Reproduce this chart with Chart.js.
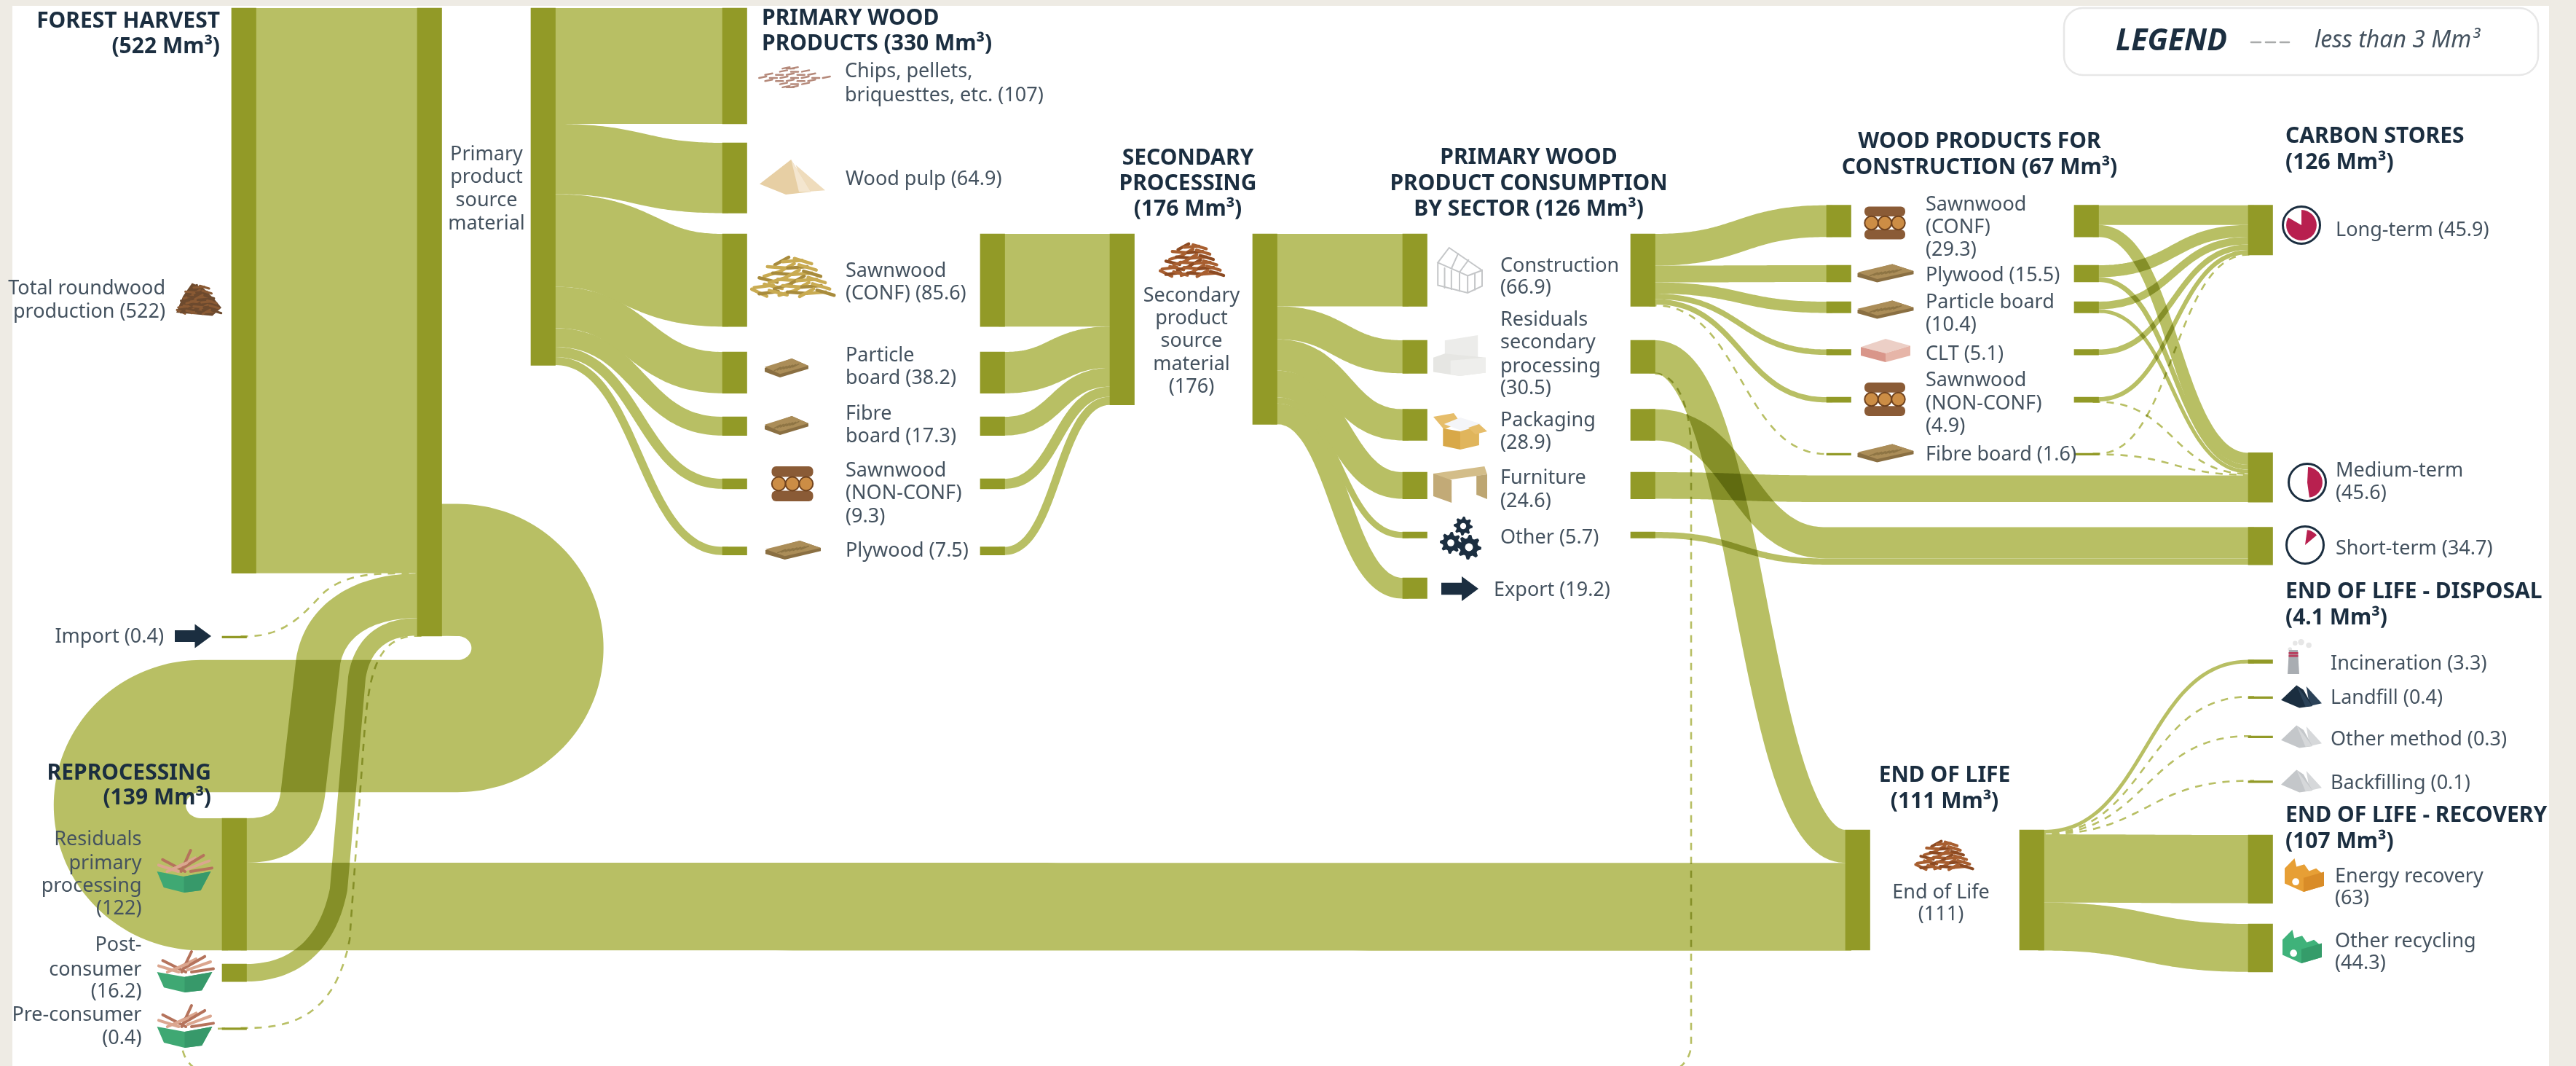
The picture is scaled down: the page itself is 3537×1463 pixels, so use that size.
<!DOCTYPE html>
<html><head><meta charset="utf-8">
<style>html,body{margin:0;padding:0;background:#eeebe4}canvas{display:block}</style>
<script src="https://cdn.jsdelivr.net/npm/chart.js@4"></script>
</head><body><canvas id="c" width="3537" height="1463"></canvas>
<script>
// ---------- DATA (Mm³) ----------
const nodeNames = ['Forest harvest','Primary product inflow','Primary product source material','Import','Residuals primary processing','Post-consumer','Pre-consumer',
 'Chips, pellets, briquettes','Wood pulp','Sawnwood (CONF)','Particle board','Fibre board','Sawnwood (NON-CONF)','Plywood',
 'Sawnwood (CONF) sec','Particle board sec','Fibre board sec','Sawnwood (NON-CONF) sec','Plywood sec',
 'Secondary inflow','Secondary product source material',
 'Construction','Residuals secondary processing','Packaging','Furniture','Other','Export',
 'Construction out','Residuals secondary out','Packaging out','Furniture out','Other out',
 'WP Sawnwood (CONF)','WP Plywood','WP Particle board','WP CLT','WP Sawnwood (NON-CONF)','WP Fibre board',
 'WP Sawnwood (CONF) out','WP Plywood out','WP Particle board out','WP CLT out','WP Sawnwood (NON-CONF) out','WP Fibre board out',
 'Long-term','Medium-term','Short-term','End of life in','End of life out',
 'Incineration','Landfill','Other method','Backfilling','Energy recovery','Other recycling'];
const nodeValues = [522,580,330,0.4,122,16.2,0.4,
 107,64.9,85.6,38.2,17.3,9.3,7.5,
 85.6,38.2,17.3,9.3,7.5,
 157.9,176,
 66.9,30.5,28.9,24.6,5.7,19.2,
 66.9,30.5,28.9,24.6,5.7,
 29.3,15.5,10.4,5.1,4.9,1.6,
 29.3,15.5,10.4,5.1,4.9,1.6,
 45.9,45.6,34.7,111,111,
 3.3,0.4,0.3,0.1,63,44.3];
const linkFrom = ['Forest harvest','Import','Residuals primary processing','Post-consumer','Pre-consumer','Primary product inflow',
 'Primary product source material','Primary product source material','Primary product source material','Primary product source material','Primary product source material','Primary product source material','Primary product source material',
 'Sawnwood (CONF) sec','Particle board sec','Fibre board sec','Sawnwood (NON-CONF) sec','Plywood sec',
 'Secondary product source material','Secondary product source material','Secondary product source material','Secondary product source material','Secondary product source material','Secondary product source material',
 'Construction out','Construction out','Construction out','Construction out','Construction out','Construction out',
 'Residuals secondary out','Residuals primary processing','Residuals secondary out','Packaging out','Other out',
 'WP Sawnwood (CONF) out','WP Plywood out','WP Particle board out','WP CLT out','WP Sawnwood (NON-CONF) out','WP Fibre board out',
 'WP Sawnwood (CONF) out','WP Plywood out','WP Particle board out','WP Sawnwood (NON-CONF) out','WP Fibre board out','Furniture out',
 'End of life out','End of life out','End of life out','End of life out','End of life out','End of life out'];
const linkTo = ['Primary product inflow','Primary product inflow','Primary product inflow','Primary product inflow','Primary product inflow','Residuals primary processing',
 'Chips, pellets, briquettes','Wood pulp','Sawnwood (CONF)','Particle board','Fibre board','Sawnwood (NON-CONF)','Plywood',
 'Secondary inflow','Secondary inflow','Secondary inflow','Secondary inflow','Secondary inflow',
 'Construction','Residuals secondary processing','Packaging','Furniture','Other','Export',
 'WP Sawnwood (CONF)','WP Plywood','WP Particle board','WP CLT','WP Sawnwood (NON-CONF)','WP Fibre board',
 'End of life in','End of life in','Pre-consumer','Short-term','Short-term',
 'Long-term','Long-term','Long-term','Long-term','Long-term','Long-term',
 'Medium-term','Medium-term','Medium-term','Medium-term','Medium-term','Medium-term',
 'Incineration','Landfill','Other method','Backfilling','Energy recovery','Other recycling'];
const linkValues = [522,0.4,41,16.2,0.4,122,
 107,64.9,85.6,38.2,17.3,9.3,7.5,
 85.6,38.2,17.3,9.3,7.5,
 66.9,30.5,28.9,24.6,5.7,19.2,
 29.3,15.5,10.4,5.1,4.9,1.6,
 30.5,81,0.4,28.9,5.7,
 18.2,11,7,5.1,4,0.6,
 11.1,4.5,3.4,0.9,1,24.6,
 3.3,0.4,0.3,0.1,63,44.3];

// ---------- LAYOUT (separate from the data) ----------
const KPX = 1.486;            // layout pixels per Mm³
const CANVAS_W = 3537, CANVAS_H = 1463;
const NODE_W = 33.5;
const nodeLeft = [318,573,729,305,305,305,305,
 992,992,992,992,992,992,992,
 1346,1346,1346,1346,1346,
 1524,1720,
 1926,1926,1926,1926,1926,1926,
 2239,2239,2239,2239,2239,
 2508,2508,2508,2508,2508,2508,
 2848,2848,2848,2848,2848,2848,
 3087,3087,3087,2534,2773,
 3087,3087,3087,3087,3087,3087];
const nodeTop = [11,11,11,873,1123,1323,1410.5,
 11,196,321,483,572,657,750.5,
 321,483,572,657,750.5,
 321,321,
 321,467,561.5,648,730,793,
 321,467,561.5,648,730,
 281.7,364,414,479.5,545,622,
 281.7,364,414,479.5,545,622,
 281.7,621.4,723.5,1139,1139,
 905.5,956,1010,1071.5,1146,1268];
const linkViaX = {'Packaging out>Short-term':2507,'Other out>Short-term':2507,'Furniture out>Medium-term':2507};
const linkRoutes = {
 'Import>Primary product inflow':(x0,y0,x1,y1)=>[...bez(x0,y0,395,y0,420,838,446,812,16),...bez(446,812,480,785,520,y1,x1,y1,16)],
 'Residuals primary processing>Primary product inflow':(x0,y0,x1,y1)=>[...bez(x0,y0,385,y0,410,1135,416,1088,18),...bez(437,907,447,850,500,y1,x1,y1,24)],
 'Post-consumer>Primary product inflow':(x0,y0,x1,y1)=>[...bez(x0,y0,400,y0,450,1300,465,1220,18),...bez(490,930,497,885,525,y1,x1,y1,20)],
 'Pre-consumer>Primary product inflow':(x0,y0,x1,y1)=>[...bez(x0,y0,400,y0,460,1395,480,1290,18),...bez(500,1010,506,930,515,y1,x1,y1,20)]
};
const FLOW = '#b8bf64', NODE = '#929a27', NAVY = '#1b2e40', BODY = '#44525f';
// Bands that meet at one node merge instead of darkening each other
const TARGET_MERGE = ['Primary product inflow','Secondary inflow','End of life in','Long-term','Medium-term','Short-term'];
const flowGroup = (from,to) => TARGET_MERGE.includes(to) ? 'T:'+to : 'S:'+from;

const idx = n => nodeNames.indexOf(n);
const outUsed = {}, inUsed = {};
function bez(x0,y0,cx1,cy1,cx2,cy2,x1,y1,n){const r=[];for(let i=0;i<=n;i++){const t=i/n,u=1-t;
  r.push([u*u*u*x0+3*u*u*t*cx1+3*u*t*t*cx2+t*t*t*x1,u*u*u*y0+3*u*u*t*cy1+3*u*t*t*cy2+t*t*t*y1]);}return r;}
function arc(cx,cy,rx,ry,a0,a1,n){const p=[];for(let i=0;i<=n;i++){const a=(a0+(a1-a0)*i/n)*Math.PI/180;p.push([cx+rx*Math.cos(a),cy+ry*Math.sin(a)]);}return p;}
function linkPoints(from,to,v){
  const a=idx(from),b=idx(to),t=v*KPX;
  const x0=nodeLeft[a]+NODE_W,x1=nodeLeft[b];
  if(from==='Primary product inflow'){
    const y0=nodeTop[a]+nodeValues[a]*KPX-t/2,y1=nodeTop[b]+t/2,mid=996.5;
    const r1=(mid-y0)/2,r2=(y1-mid)/2;
    return [[x0-8,y0],...arc(628,y0+r1,110,r1,-90,90,48),...arc(276,mid+r2,r2+3,r2,-90,-270,48),[x1+8,y1]];
  }
  const y0=nodeTop[a]+(outUsed[from]||0)+t/2; outUsed[from]=(outUsed[from]||0)+t;
  if(to==='Pre-consumer'){
    return [...bez(x0,y0,2300,y0,2322,y0+40,2322,y0+110,16),...arc(2282,1433,40,40,0,90,12),...arc(290,1433,40,40,90,180,12),...bez(250,1433,250,1420,275,1411.5,x1+6,1411.5,10)];
  }
  const y1=nodeTop[b]+(inUsed[to]||0)+t/2; inUsed[to]=(inUsed[to]||0)+t;
  const key=from+'>'+to;
  if(linkRoutes[key]) return [[x0-8,y0],...linkRoutes[key](x0,y0,x1,y1),[x1+8,y1]];
  if(linkViaX[key]){const vx=linkViaX[key],m=(x0+vx)/2;
    return [[x0-8,y0],...bez(x0,y0,m,y0,m,y1,vx,y1,40),[x1+8,y1]];}
  const m=(x0+x1)/2;
  return [[x0-8,y0],...bez(x0,y0,m,y0,m,y1,x1,y1,40),[x1+8,y1]];
}
const flowDatasets = linkValues.map((v,i)=>{
  const dashed = v<3;
  return {type:'line',label:linkFrom[i]+' → '+linkTo[i],order:2,flowGroup:flowGroup(linkFrom[i],linkTo[i]),
    data:linkPoints(linkFrom[i],linkTo[i],v).map(p=>({x:p[0],y:p[1]/KPX})),
    borderColor:FLOW,backgroundColor:FLOW,fill:false,pointRadius:0,pointHitRadius:0,
    tension:dashed?0:0.15,capBezierPoints:false,borderCapStyle:'butt',borderJoinStyle:'round',
    borderDash:dashed?[10,9]:[],
    borderWidth:dashed?2.6:(c=>{const s=c.chart.scales.y;return Math.abs(s.getPixelForValue(v)-s.getPixelForValue(0));})};
}).sort((a,b)=>a.flowGroup<b.flowGroup?-1:a.flowGroup>b.flowGroup?1:0);
const nodeDataset = {type:'bar',label:'Nodes',order:0,
  data:nodeValues.map((v,i)=>({x:nodeLeft[i]+NODE_W/2,y:[nodeTop[i]/KPX,nodeTop[i]/KPX+v]})),
  backgroundColor:NODE,borderWidth:0,barThickness:NODE_W,minBarLength:2.6,borderSkipped:false};

// ---------- TEXT ----------
const headings = [
 [['FOREST HARVEST','(522 Mm³)'],302,[29,64],'right'],
 [['PRIMARY WOOD','PRODUCTS (330 Mm³)'],1046,[25,60],'left'],
 [['SECONDARY','PROCESSING','(176 Mm³)'],1631,[217,252,287],'center'],
 [['PRIMARY WOOD','PRODUCT CONSUMPTION','BY SECTOR (126 Mm³)'],2099,[216,252,287],'center'],
 [['WOOD PRODUCTS FOR','CONSTRUCTION (67 Mm³)'],2718,[194,230],'center'],
 [['CARBON STORES','(126 Mm³)'],3138,[187,223],'left'],
 [['END OF LIFE - DISPOSAL','(4.1 Mm³)'],3138,[812,848],'left'],
 [['END OF LIFE - RECOVERY','(107 Mm³)'],3138,[1119,1155],'left'],
 [['END OF LIFE','(111 Mm³)'],2670,[1064,1100],'center'],
 [['REPROCESSING','(139 Mm³)'],290,[1061,1095],'right']
];
const labels = [
 [['Total roundwood','production (522)'],227,[396,428],'right'],
 [['Primary','product','source','material'],668,[212,243,275,307],'center'],
 [['Chips, pellets,','briquesttes, etc. (107)'],1160,[98,131],'left'],
 [['Wood pulp (64.9)'],1161,[246],'left'],
 [['Sawnwood','(CONF) (85.6)'],1161,[372,403],'left'],
 [['Particle','board (38.2)'],1161,[488,519],'left'],
 [['Fibre','board (17.3)'],1161,[568,599],'left'],
 [['Sawnwood','(NON-CONF)','(9.3)'],1161,[646,677,709],'left'],
 [['Plywood (7.5)'],1161,[756],'left'],
 [['Secondary','product','source','material','(176)'],1636,[406,437,468,500,531],'center'],
 [['Construction','(66.9)'],2060,[365,395],'left'],
 [['Residuals','secondary','processing','(30.5)'],2060,[439,470,503,533],'left'],
 [['Packaging','(28.9)'],2060,[577,608],'left'],
 [['Furniture','(24.6)'],2060,[656,688],'left'],
 [['Other (5.7)'],2060,[738],'left'],
 [['Export (19.2)'],2051,[810],'left'],
 [['Sawnwood','(CONF)','(29.3)'],2644,[281,312,343],'left'],
 [['Plywood (15.5)'],2644,[378],'left'],
 [['Particle board','(10.4)'],2644,[415,446],'left'],
 [['CLT (5.1)'],2644,[486],'left'],
 [['Sawnwood','(NON-CONF)','(4.9)'],2644,[522,554,585],'left'],
 [['Fibre board (1.6)'],2644,[624],'left'],
 [['Long-term (45.9)'],3207,[316],'left'],
 [['Medium-term','(45.6)'],3207,[646,677],'left'],
 [['Short-term (34.7)'],3207,[753],'left'],
 [['Incineration (3.3)'],3200,[911],'left'],
 [['Landfill (0.4)'],3200,[958],'left'],
 [['Other method (0.3)'],3200,[1015],'left'],
 [['Backfilling (0.1)'],3200,[1075],'left'],
 [['Energy recovery','(63)'],3206,[1203,1233],'left'],
 [['Other recycling','(44.3)'],3206,[1292,1322],'left'],
 [['End of Life','(111)'],2665,[1225,1255],'center'],
 [['Import (0.4)'],225,[874],'right'],
 [['Residuals','primary','processing','(122)'],194.5,[1152,1185,1216,1247],'right'],
 [['Post-','consumer','(16.2)'],194.5,[1297,1331,1361],'right'],
 [['Pre-consumer','(0.4)'],194.5,[1393,1425],'right']
];

// ---------- ICONS (decoration) ----------
function poly(g,pts,fill){g.beginPath();pts.forEach((p,i)=>i?g.lineTo(p[0],p[1]):g.moveTo(p[0],p[1]));g.closePath();g.fillStyle=fill;g.fill();}
function sticks(g,cx,cy,w,h,c1,c2,lw){ // heap of short sticks
  g.lineCap='round';
  const rows=6;
  for(let r=0;r<rows;r++){
    const rowW=w*(0.42+0.58*r/(rows-1)),yy=cy-h/2+h*(r+0.5)/rows,n=3+r;
    for(let i=0;i<n;i++){
      const xx=cx-rowW/2+rowW*(i+0.5)/n,ang=((i*37+r*53)%90-45)*Math.PI/180,len=w*0.13;
      g.strokeStyle=(i+r)%3?c1:c2;g.lineWidth=lw;g.beginPath();
      g.moveTo(xx-Math.cos(ang)*len,yy-Math.sin(ang)*len*0.55);g.lineTo(xx+Math.cos(ang)*len,yy+Math.sin(ang)*len*0.55);g.stroke();
    }
  }
}
function blob(g,cx,cy,w,h,c1,c2){ // roundwood heap
  g.fillStyle=c1;g.beginPath();g.moveTo(cx-w*.5,cy+h*.4);g.lineTo(cx-w*.35,cy-h*.1);g.lineTo(cx-w*.15,cy-h*.5);g.lineTo(cx+w*.1,cy-h*.35);g.lineTo(cx+w*.35,cy);g.lineTo(cx+w*.5,cy+h*.25);g.lineTo(cx+w*.3,cy+h*.5);g.closePath();g.fill();
  sticks(g,cx,cy,w*.9,h*.9,c2,c1,3);
}
function chips(g,cx,cy,w,h,c){g.strokeStyle=c;g.lineWidth=2.4;g.lineCap='round';
  const rows=7;for(let r=0;r<rows;r++){const k=1-Math.abs(r-3)/3.6,rw=w*k,yy=cy-h/2+h*(r+.5)/rows,n=Math.max(3,Math.round(rw/15));
    for(let i=0;i<n;i++){const xx=cx-rw/2+rw*(i+.5)/n+(r%2?3:-3);g.beginPath();g.moveTo(xx-5,yy+1);g.lineTo(xx+5,yy-1+(i%2)*2);g.stroke();}}
}
function pulp(g,cx,cy,w,h){
  poly(g,[[cx+w*.05,cy-h*.35],[cx+w*.5,cy+h*.38],[cx+w*.2,cy+h*.42]],'#efdcbc');
  poly(g,[[cx-w*.02,cy-h*.5],[cx+w*.28,cy+h*.42],[cx-w*.1,cy+h*.5],[cx-w*.5,cy+h*.2]],'#e7cfa4');
  poly(g,[[cx-w*.02,cy-h*.5],[cx+w*.28,cy+h*.42],[cx+w*.1,cy+h*.42]],'#f4e6cf');
}
function board(g,cx,cy,w,h){
  poly(g,[[cx-w*.5,cy],[cx+w*.12,cy-h*.5],[cx+w*.5,cy-h*.12],[cx+w*.5,cy+h*.05],[cx-w*.15,cy+h*.5],[cx-w*.5,cy+h*.2]],'#8a6f42');
  poly(g,[[cx-w*.5,cy-h*.05],[cx+w*.12,cy-h*.5],[cx+w*.5,cy-h*.12],[cx-w*.15,cy+h*.32]],'#ab8d58');
  g.strokeStyle='#8d7444';g.lineWidth=1.5;for(let i=-3;i<=3;i++){g.beginPath();g.moveTo(cx+i*w*.07-w*.07,cy+h*.05-i*h*.03);g.lineTo(cx+i*w*.07+w*.07,cy-h*.12-i*h*.03);g.stroke();}
}
function logs(g,cx,cy,w,h){
  g.fillStyle='#8a5b36';
  g.beginPath();g.roundRect(cx-w*.5,cy-h*.5,w,h*.3,6);g.fill();g.beginPath();g.roundRect(cx-w*.5,cy+h*.2,w,h*.3,6);g.fill();
  [-1,0,1].forEach(i=>{g.beginPath();g.arc(cx+i*w*.33,cy,w*.165,0,7);g.fillStyle='#cc8d45';g.fill();g.strokeStyle='#70431f';g.lineWidth=2;g.stroke();});
}
function greenhouse(g,x,y,w,h){g.strokeStyle='#c4c6c8';g.lineWidth=2;
  const P=[[.02,.33],[.02,.83],[.68,1],[1,.85],[1,.5],[.68,.62],[.68,1],[.68,.62],[.02,.33],[.27,0],[1,.5]];
  g.beginPath();P.forEach((p,i)=>{const a=x+p[0]*w,b=y+p[1]*h;i?g.lineTo(a,b):g.moveTo(a,b);});g.stroke();
  g.beginPath();[.17,.32,.5].forEach(t=>{g.moveTo(x+t*w,y+(.39+t*.36)*h);g.lineTo(x+t*w,y+(.85+t*.22)*h);});
  g.moveTo(x+.84*w,y+.56*h);g.lineTo(x+.84*w,y+.93*h);g.moveTo(x+.47*w,y+.13*h);g.lineTo(x+.33*w,y+.44*h);g.moveTo(x+.7*w,y+.27*h);g.lineTo(x+.5*w,y+.54*h);g.stroke();
}
function blocks(g,x,y,w,h){
  poly(g,[[x+.22*w,y+.13*h],[x+.85*w,y],[x+.85*w,y+.55*h],[x+.22*w,y+.62*h]],'#ececea');
  poly(g,[[x,y+.55*h],[x+.22*w,y+.45*h],[x+1*w,y+.55*h],[x+1*w,y+.92*h],[x+.5*w,y+1*h],[x,y+.9*h]],'#e6e6e3');
  poly(g,[[x+.33*w,y+.62*h],[x+1*w,y+.55*h],[x+1*w,y+.92*h],[x+.5*w,y+1*h],[x+.33*w,y+.95*h]],'#eeeeec');
}
function box(g,x,y,w,h){
  poly(g,[[x,y+.1*h],[x+.38*w,y],[x+.5*w,y+.25*h],[x+.2*w,y+.45*h]],'#e6bd6a');
  poly(g,[[x+.2*w,y+.3*h],[x+.5*w,y+.12*h],[x+.9*w,y+.3*h],[x+.55*w,y+.5*h]],'#f4f5f8');
  poly(g,[[x+.18*w,y+.42*h],[x+.5*w,y+.5*h],[x+.5*w,y+h],[x+.18*w,y+.9*h]],'#d8a848');
  poly(g,[[x+.5*w,y+.5*h],[x+.85*w,y+.35*h],[x+.85*w,y+.88*h],[x+.5*w,y+h]],'#e0b55c');
  poly(g,[[x+.65*w,y+.4*h],[x+.85*w,y+.3*h],[x+w,y+.5*h],[x+.78*w,y+.58*h]],'#e6bd6a');
}
function table(g,x,y,w,h){
  poly(g,[[x,y+.2*h],[x+.95*w,y],[x+w,y+.22*h],[x+.05*w,y+.42*h]],'#d3bd89');
  poly(g,[[x,y+.2*h],[x+.34*w,y+.38*h],[x+.34*w,y+h],[x,y+.82*h]],'#c2aa77');
  poly(g,[[x+.8*w,y+.26*h],[x+w,y+.22*h],[x+w,y+.9*h],[x+.8*w,y+.78*h]],'#bda672');
}
function gear(g,cx,cy,r){g.fillStyle=NAVY;g.beginPath();
  for(let i=0;i<32;i++){const a=i/32*2*Math.PI,m=i%4,rr=(m===0||m===1)?r:r*.74,x=cx+rr*Math.cos(a),y=cy+rr*Math.sin(a);i?g.lineTo(x,y):g.moveTo(x,y);}
  g.closePath();g.fill();g.fillStyle='#fff';g.beginPath();g.arc(cx,cy,r*.32,0,7);g.fill();}
function arrow(g,x,cy,w,h){poly(g,[[x,cy-h*.24],[x+w*.55,cy-h*.24],[x+w*.55,cy-h*.5],[x+w,cy],[x+w*.55,cy+h*.5],[x+w*.55,cy+h*.24],[x,cy+h*.24]],NAVY);}
function basket(g,x,y,w,h){
  g.lineCap='round';
  const S=[[.05,.35,.4,.5],[.12,.22,.52,.5],[.3,.45,.7,.18],[.45,.5,.62,0],[.55,.45,.95,.25],[.5,.4,.85,.12],[.2,.5,.55,.3],[.62,.5,1,.42]];
  S.forEach((s,i)=>{g.strokeStyle=i%2?'#b5735c':'#dba68f';g.lineWidth=4;g.beginPath();g.moveTo(x+s[0]*w,y+s[1]*h);g.lineTo(x+s[2]*w,y+s[3]*h);g.stroke();});
  poly(g,[[x+.02*w,y+.5*h],[x+.5*w,y+.62*h],[x+.98*w,y+.5*h],[x+.8*w,y+.95*h],[x+.5*w,y+h],[x+.14*w,y+.88*h]],'#3fa873');
  poly(g,[[x+.5*w,y+.62*h],[x+.98*w,y+.5*h],[x+.8*w,y+.95*h],[x+.5*w,y+h]],'#37996a');
}
function clt(g,x,y,w,h){
  poly(g,[[x,y+.35*h],[x+.5*w,y],[x+w,y+.3*h],[x+.5*w,y+.62*h]],'#eccfc6');
  poly(g,[[x,y+.35*h],[x+.5*w,y+.62*h],[x+.5*w,y+h],[x,y+.72*h]],'#d9968a');
  poly(g,[[x+.5*w,y+.62*h],[x+w,y+.3*h],[x+w,y+.72*h],[x+.5*w,y+h]],'#e6b5a8');
}
function clock(g,cx,cy,r,a0,a1){const A=t=>(t-90)*Math.PI/180;
  g.beginPath();g.arc(cx,cy,r,0,7);g.fillStyle='#fff';g.fill();g.strokeStyle=NAVY;g.lineWidth=3;g.stroke();
  g.beginPath();g.moveTo(cx,cy);g.arc(cx,cy,r*.82,A(a0),A(a1));g.closePath();g.fillStyle='#b8204f';g.fill();}
function chimney(g,cx,y,h){
  g.fillStyle='#e6e6e6';[[.6,.1,.07],[.95,.07,.09],[1.4,.16,.08],[.3,.28,.06]].forEach(s=>{g.beginPath();g.arc(cx+(s[0]-.5)*h*.5,y+s[1]*h,s[2]*h,0,7);g.fill();});
  poly(g,[[cx-6,y+.3*h],[cx+6,y+.3*h],[cx+8,y+h],[cx-8,y+h]],'#a9adb2');
  g.fillStyle='#b8405f';g.fillRect(cx-6.5,y+.36*h,13,3);g.fillRect(cx-6.5,y+.44*h,13,3);
}
function heap(g,cx,cy,w,h,c1,c2){
  poly(g,[[cx+.12*w,cy-.45*h],[cx+.5*w,cy+.3*h],[cx+.2*w,cy+.42*h]],c2);
  poly(g,[[cx-.12*w,cy-.5*h],[cx+.05*w,cy-.3*h],[cx+.27*w,cy+.42*h],[cx-.05*w,cy+.5*h],[cx-.5*w,cy+.15*h]],c1);
  poly(g,[[cx-.12*w,cy-.5*h],[cx+.27*w,cy+.42*h],[cx+.1*w,cy+.45*h]],c2);
}
function factory(g,x,y,w,h,c1,c2){
  poly(g,[[x,y+.3*h],[x+.25*w,y],[x+.3*w,y+.25*h],[x+.5*w,y+.18*h],[x+.62*w,y+.38*h],[x+.8*w,y+.3*h],[x+w,y+.5*h],[x+w,y+.82*h],[x+.48*w,y+h],[x,y+.75*h]],c1);
  poly(g,[[x+.48*w,y+.58*h],[x+w,y+.4*h],[x+w,y+.82*h],[x+.48*w,y+h]],c2);
  g.fillStyle='#fff';g.beginPath();g.arc(x+.28*w,y+.7*h,w*.09,0,7);g.fill();
}
function drawIcons(g){
  blob(g,273,411,62,45,'#6d4a2e','#8a5a34');
  chips(g,1088,106,102,30,'#b5897a');
  pulp(g,1088,243,90,48);
  sticks(g,1088,380,104,52,'#c9ab52','#a88b3c',4.5);
  board(g,1080,505,60,26);board(g,1080,584,60,26);board(g,1089,755,76,26);
  logs(g,1088,664,57,48);
  sticks(g,1636,357,80,44,'#a85f30','#8c4a22',4.2);
  greenhouse(g,1973,340,62,62);
  blocks(g,1968,460,72,56);
  box(g,1968,567,74,50);
  table(g,1968,640,74,50);
  gear(g,2009,722,13);gear(g,1992,745,15);gear(g,2017,751,17);
  arrow(g,1979,808,51,34);
  logs(g,2588,306,56,45);board(g,2589,375,77,25);board(g,2589,425,77,25);
  clt(g,2555,465,68,32);logs(g,2588,548,56,46);board(g,2589,622,77,25);
  clock(g,3160,309,25.5,0,300);clock(g,3168,662,25.5,3,172);clock(g,3165,748,25.5,8,50);
  chimney(g,3149,878,47);
  heap(g,3160,956,56,31,'#1b2e40','#2b4258');heap(g,3160,1011,56,31,'#c4c7ca','#d6d8da');heap(g,3160,1072,56,31,'#c4c7ca','#d6d8da');
  factory(g,3137,1178,54,46,'#e79f35','#d98c28');factory(g,3134,1276,54,46,'#3fb27a','#359c6a');
  sticks(g,2669,1174,72,38,'#a85f30','#8c4a22',4);
  arrow(g,240,873,50,33);
  basket(g,214,1167,77,58);basket(g,214,1306,79,56);basket(g,214,1380,79,58);
}
function drawText(g,list,font,color){
  g.font=font;g.fillStyle=color;g.textBaseline='middle';
  list.forEach(L=>{g.textAlign=L[3];L[0].forEach((s,i)=>g.fillText(s,L[1],L[2][i]));});
}
// Offscreen layer: all bands of a group are stroked there, then multiplied onto the chart once.
const layer = document.createElement('canvas');layer.width=CANVAS_W;layer.height=CANVAS_H;
const layerCtx = layer.getContext('2d');
const groupLeft = {};
const sankeyDecor = {id:'sankeyDecor',
  beforeDraw(chart){const g=chart.ctx;g.save();g.fillStyle='#eeebe4';g.fillRect(0,0,CANVAS_W,CANVAS_H);g.fillStyle='#fff';g.fillRect(17,8,3483,CANVAS_H);g.restore();},
  beforeDatasetsDraw(chart){
    Object.keys(groupLeft).forEach(k=>delete groupLeft[k]);
    chart.data.datasets.forEach(d=>{if(d.flowGroup)groupLeft[d.flowGroup]=(groupLeft[d.flowGroup]||0)+1;});
    layerCtx.clearRect(0,0,CANVAS_W,CANVAS_H);
  },
  beforeDatasetDraw(chart,args){if(args.meta.type==='line')args.meta.controller._ctx=layerCtx;},
  afterDatasetDraw(chart,args){
    const d=chart.data.datasets[args.index];
    if(!d.flowGroup)return;
    if(--groupLeft[d.flowGroup]===0){
      const g=chart.ctx;g.save();g.globalCompositeOperation='multiply';g.drawImage(layer,0,0);g.restore();
      layerCtx.clearRect(0,0,CANVAS_W,CANVAS_H);
    }
  },
  afterDatasetsDraw(chart){const g=chart.ctx;g.save();
    drawIcons(g);
    drawText(g,labels,'400 27px "Noto Sans"',BODY);
    drawText(g,headings,'700 30px "Noto Sans"',NAVY);
    // legend
    g.beginPath();g.roundRect(2834,11,651,92,26);g.strokeStyle='#e7e7e7';g.lineWidth=2.5;g.stroke();
    g.textBaseline='middle';g.textAlign='left';g.fillStyle=NAVY;g.font='italic 700 41px "Noto Sans"';g.fillText('LEGEND',2905,57);
    g.strokeStyle='#a9abab';g.lineWidth=2.6;g.setLineDash([13,7]);g.beginPath();g.moveTo(3091,58);g.lineTo(3143,58);g.stroke();g.setLineDash([]);
    g.fillStyle=BODY;g.font='italic 400 32px "Noto Sans"';g.fillText('less than 3 Mm³',3178,56);
    g.restore();}
};
new Chart(document.getElementById('c'),{
  type:'bar',
  data:{datasets:[nodeDataset,...flowDatasets]},
  options:{responsive:false,animation:false,devicePixelRatio:1,
    layout:{padding:0},
    plugins:{legend:{display:false},tooltip:{enabled:false}},
    events:[],
    scales:{
      x:{type:'linear',min:0,max:CANVAS_W,offset:false,display:false},
      y:{type:'linear',min:0,max:CANVAS_H/KPX,reverse:true,display:false}
    }},
  plugins:[sankeyDecor]
});
</script></body></html>
